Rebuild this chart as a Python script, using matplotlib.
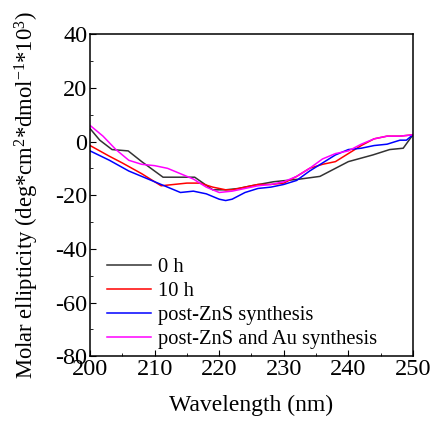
import matplotlib
matplotlib.use('Agg')
import matplotlib.pyplot as plt
from matplotlib.ticker import MultipleLocator

wl_0h = [200, 201.5, 203.4, 205.9, 208, 211.3, 214, 216.2, 219, 221, 223, 225, 228.4, 232.5, 235.6, 238, 240, 243.8, 246.4, 248.5, 250]
cd_0h = [4.8, 0.5, -3, -3.5, -7.5, -13.3, -13.3, -13.3, -18, -18, -17.5, -16.5, -15, -14, -13, -10, -7.5, -5, -3, -2.5, 2.5]

wl_10h = [200, 203, 205, 208, 211, 213, 215, 217, 219, 221, 222, 224, 226, 228, 230, 232, 234, 236, 238, 240, 242, 244, 246, 248, 250]
cd_10h = [-1.5, -5.5, -8, -12, -16.5, -16, -15.5, -15.5, -17, -18, -18, -17, -16, -16, -15.5, -13, -10, -8.5, -7.5, -4.5, -1.5, 1, 2, 2, 2.5]

wl_zns = [200, 203, 206, 208, 210, 212, 214, 216, 218, 220, 221, 222, 224, 226, 228, 230, 232, 234, 236, 238, 240, 242, 244, 246, 248, 249, 250]
cd_zns = [-3.5, -7, -11, -13, -15, -17, -19, -18.5, -19.5, -21.5, -22, -21.5, -19, -17.5, -17, -16, -14.5, -11, -8, -5, -3, -2.5, -1.5, -1, 0.5, 0.5, 2.5]

wl_au = [200, 202, 204, 206, 208, 210, 212, 214, 216, 218, 220, 222, 224, 226, 228, 230, 232, 234, 236, 238, 240, 242, 244, 246, 248, 250]
cd_au = [6, 2, -3, -7, -8.5, -9, -10, -12, -14, -17, -19, -18.5, -17.5, -16.5, -16, -15, -13, -10, -6.5, -4.5, -3.5, -1, 1, 2, 2, 2.5]

plt.rcParams['font.family'] = 'Liberation Serif'
plt.rcParams['mathtext.fontset'] = 'custom'
plt.rcParams['mathtext.rm'] = 'Liberation Serif'
plt.rcParams['mathtext.default'] = 'rm'
plt.rcParams['axes.unicode_minus'] = False

fig = plt.figure(figsize=(4.31, 4.22), dpi=100)
ax = fig.add_axes([0.209, 0.156, 0.749, 0.763])

ax.plot(wl_0h, cd_0h, color='#333333', lw=1.1, label='0 h')
ax.plot(wl_10h, cd_10h, color='red', lw=1.1, label='10 h')
ax.plot(wl_zns, cd_zns, color='blue', lw=1.1, label='post-ZnS synthesis')
ax.plot(wl_au, cd_au, color='magenta', lw=1.1, label='post-ZnS and Au synthesis')

ax.set_xlim(200, 250)
ax.set_ylim(-80, 40)
ax.xaxis.set_major_locator(MultipleLocator(10))
ax.xaxis.set_minor_locator(MultipleLocator(5))
ax.yaxis.set_major_locator(MultipleLocator(20))
ax.yaxis.set_minor_locator(MultipleLocator(10))
ax.tick_params(which='both', direction='in', top=False, right=False, labelsize=17.5, pad=2)
ax.tick_params(which='major', length=4)
ax.tick_params(which='minor', length=2.5)
for s in ax.spines.values():
    s.set_linewidth(1.1)

ax.set_xlabel('Wavelength (nm)', fontsize=17, labelpad=11)
ax.set_ylabel('Molar ellipticity (deg*cm$^{2}$*dmol$^{-1}$*10$^{3}$)', fontsize=16.3, labelpad=10)

ax.legend(loc='lower left', frameon=False, fontsize=14.8, handlelength=2.15,
          handletextpad=0.35, labelspacing=0.22, borderaxespad=0.0,
          bbox_to_anchor=(0.026, -0.003))

fig.savefig('out.png', dpi=100)
